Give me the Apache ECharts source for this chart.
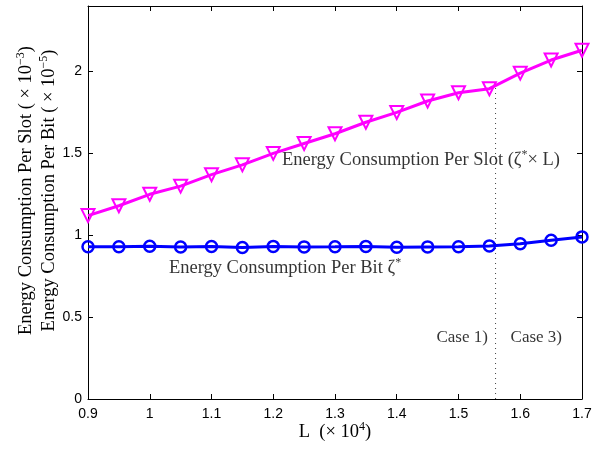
<!DOCTYPE html>
<html><head><meta charset="utf-8">
<script src="https://cdn.jsdelivr.net/npm/echarts@6/dist/echarts.min.js"></script>
<style>html,body{margin:0;padding:0;background:#fff}#c{width:611px;height:451px}</style>
</head><body><div id="c"></div>
<script>
// ---- data ----
const L = [0.9, 0.95, 1.0, 1.05, 1.1, 1.15, 1.2, 1.25, 1.3, 1.35, 1.4, 1.45, 1.5, 1.55, 1.6, 1.65, 1.7];
const perSlot = [1.12, 1.18, 1.25, 1.30, 1.37, 1.43, 1.50, 1.56, 1.62, 1.69, 1.75, 1.82, 1.87, 1.895, 1.99, 2.07, 2.13];
const perBit = [0.93, 0.93, 0.933, 0.928, 0.931, 0.925, 0.932, 0.929, 0.93, 0.932, 0.927, 0.929, 0.93, 0.935, 0.948, 0.97, 0.99];
const caseBoundaryX = 1.56;
const caseBoundaryTop = 1.91;
const annotations = [
  {x: 1.214, y: 1.46, text: '{t|Energy Consumption Per Slot (ζ}{s|*}{t|× L)}', pos: 'right'},
  {x: 1.031, y: 0.80, text: '{t|Energy Consumption Per Bit ζ}{s|*}', pos: 'right'},
  {x: 1.506, y: 0.375, text: '{c|Case 1)}', pos: 'inside'},
  {x: 1.626, y: 0.375, text: '{c|Case 3)}', pos: 'inside'}
];
const xAxisTitle = '{t|L  (× 10}{s|4}{t|)}';
const yAxisTitle = '{t|Energy Consumption Per Slot ( × 10}{s|−3}{t|)}\n{t|Energy Consumption Per Bit ( × 10}{s|−5}{t|)}';

// ---- styles ----
const SERIF = '"Liberation Serif", "Times New Roman", serif';
const SANS = '"Liberation Sans", Arial, sans-serif';
const rich = {
  t: {fontFamily: SERIF, fontSize: 18.5, lineHeight: 23, color: '#000', verticalAlign: 'middle'},
  c: {fontFamily: SERIF, fontSize: 17, lineHeight: 22, color: '#000', verticalAlign: 'middle'},
  s: {fontFamily: SERIF, fontSize: 12, lineHeight: 12, color: '#000', verticalAlign: 'top'}
};
const blue = '#0000ff', mag = '#ff00ff';

const chart = echarts.init(document.getElementById('c'), null, {renderer: 'canvas'});
const tickStyle = {show: true, inside: true, length: 5, lineStyle: {color: '#000', width: 1}};
chart.setOption({
  animation: false,
  backgroundColor: '#fff',
  grid: {left: 88, right: 29, top: 6, bottom: 52, containLabel: false},
  xAxis: [{
    type: 'value', min: 0.9, max: 1.7, interval: 0.1,
    axisLine: {show: true, onZero: false, lineStyle: {color: '#000', width: 1}},
    axisTick: tickStyle,
    splitLine: {show: false},
    axisLabel: {color: '#000', fontFamily: SANS, fontSize: 14, margin: 8},
    name: xAxisTitle, nameLocation: 'middle', nameGap: 22, nameMoveOverlap: false,
    nameTextStyle: {rich: rich}
  }, {
    type: 'value', min: 0.9, max: 1.7, interval: 0.1, position: 'top',
    axisLine: {show: true, onZero: false, lineStyle: {color: '#000', width: 1}},
    axisTick: tickStyle, axisLabel: {show: false}, splitLine: {show: false}
  }],
  yAxis: [{
    type: 'value', min: 0, max: 2.4, interval: 0.5,
    axisLine: {show: true, onZero: false, lineStyle: {color: '#000', width: 1}},
    axisTick: tickStyle,
    splitLine: {show: false},
    axisLabel: {color: '#000', fontFamily: SANS, fontSize: 14, margin: 6, showMaxLabel: false},
    name: yAxisTitle, nameLocation: 'middle', nameGap: 27, nameMoveOverlap: false,
    nameTextStyle: {rich: rich, padding: [0, 0, 0, 24]}
  }, {
    type: 'value', min: 0, max: 2.4, interval: 0.5, position: 'right',
    axisLine: {show: true, onZero: false, lineStyle: {color: '#000', width: 1}},
    axisTick: tickStyle, axisLabel: {show: false}, splitLine: {show: false}
  }],
  series: [
    {
      type: 'line', name: 'boundary', data: [[caseBoundaryX, 0], [caseBoundaryX, caseBoundaryTop]],
      symbol: 'none', lineStyle: {color: '#444', width: 1, type: [1, 4]}, z: 1
    },
    {
      type: 'line', name: 'Per Slot', data: L.map((x, i) => [x, perSlot[i]]),
      symbol: 'triangle', symbolRotate: 180, symbolSize: 13,
      lineStyle: {color: mag, width: 3},
      itemStyle: {color: 'rgba(0,0,0,0)', borderColor: mag, borderWidth: 2}, z: 3
    },
    {
      type: 'line', name: 'Per Bit', data: L.map((x, i) => [x, perBit[i]]),
      symbol: 'circle', symbolSize: 11,
      lineStyle: {color: blue, width: 3},
      itemStyle: {color: 'rgba(0,0,0,0)', borderColor: blue, borderWidth: 2.5}, z: 3
    },
    {
      type: 'scatter', name: 'annotations', symbolSize: 0, silent: true,
      data: annotations.map(a => ({
        value: [a.x, a.y],
        label: {show: true, position: a.pos, distance: 0, formatter: a.text, rich: rich}
      })),
      z: 5
    }
  ]
});
</script></body></html>
